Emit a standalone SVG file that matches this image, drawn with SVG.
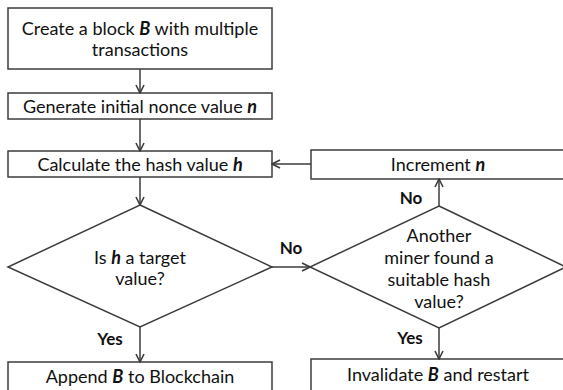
<svg xmlns="http://www.w3.org/2000/svg" width="563" height="390" viewBox="0 0 563 390">
  <defs>
    <marker id="arrow" viewBox="0 0 10 10" refX="9" refY="5" markerWidth="10" markerHeight="10" markerUnits="userSpaceOnUse" orient="auto">
      <path d="M1,1 L9,5 L1,9" fill="none" stroke="#3c3c3c" stroke-width="1.6"/>
    </marker>
    <style>
      .shape { fill: #ffffff; stroke: #3c3c3c; stroke-width: 1.5; }
      .edge { fill: none; stroke: #3c3c3c; stroke-width: 1.5; marker-end: url(#arrow); }
      .label { font-family: Lato, "Open Sans", "Liberation Sans", sans-serif; font-size: 18px; fill: #111111; text-anchor: middle; }
      .tag { font-family: Lato, "Open Sans", "Liberation Sans", sans-serif; font-size: 17px; font-weight: bold; fill: #111111; text-anchor: middle; }
      .em { font-weight: bold; font-style: italic; }
    </style>
  </defs>
  <rect width="563" height="390" fill="#ffffff"/>

  <g id="create-block">
    <rect class="shape" x="8" y="8" width="264" height="61"/>
    <text class="label" x="140" y="35">Create a block <tspan class="em">B</tspan> with multiple</text>
    <text class="label" x="140" y="56">transactions</text>
  </g>

  <g id="generate-nonce">
    <rect class="shape" x="8" y="93" width="264" height="26"/>
    <text class="label" x="140" y="113">Generate initial nonce value <tspan class="em">n</tspan></text>
  </g>

  <g id="calculate-hash">
    <rect class="shape" x="8" y="151" width="264" height="26"/>
    <text class="label" x="140" y="171">Calculate the hash value <tspan class="em">h</tspan></text>
  </g>

  <g id="is-target">
    <polygon class="shape" points="140,205 272,267 140,327 8,267"/>
    <text class="label" x="140" y="264">Is <tspan class="em">h</tspan> a target</text>
    <text class="label" x="140" y="285">value?</text>
  </g>

  <g id="append-block">
    <rect class="shape" x="8" y="362" width="264" height="40"/>
    <text class="label" x="140" y="383">Append <tspan class="em">B</tspan> to Blockchain</text>
  </g>

  <g id="increment-nonce">
    <rect class="shape" x="311" y="150" width="270" height="29"/>
    <text class="label" x="438" y="171">Increment <tspan class="em">n</tspan></text>
  </g>

  <g id="other-miner">
    <polygon class="shape" points="439,206 566,267 439,328 310,267"/>
    <text class="label" x="439" y="242">Another</text>
    <text class="label" x="439" y="264">miner found a</text>
    <text class="label" x="439" y="286">suitable hash</text>
    <text class="label" x="439" y="308">value?</text>
  </g>

  <g id="invalidate-block">
    <rect class="shape" x="311" y="359" width="270" height="40"/>
    <text class="label" x="438" y="381">Invalidate <tspan class="em">B</tspan> and restart</text>
  </g>

  <g id="connectors">
    <line class="edge" x1="140" y1="69" x2="140" y2="93"/>
    <line class="edge" x1="140" y1="119" x2="140" y2="151"/>
    <line class="edge" x1="140" y1="177" x2="140" y2="205"/>
    <line class="edge" x1="140" y1="327" x2="140" y2="362"/>
    <line class="edge" x1="272" y1="267" x2="310" y2="267"/>
    <line class="edge" x1="439" y1="206" x2="439" y2="179"/>
    <line class="edge" x1="439" y1="328" x2="439" y2="359"/>
    <line class="edge" x1="311" y1="164" x2="272" y2="164"/>
    <text class="tag" x="291" y="254">No</text>
    <text class="tag" x="110" y="345">Yes</text>
    <text class="tag" x="411" y="204">No</text>
    <text class="tag" x="410" y="344">Yes</text>
  </g>
</svg>
